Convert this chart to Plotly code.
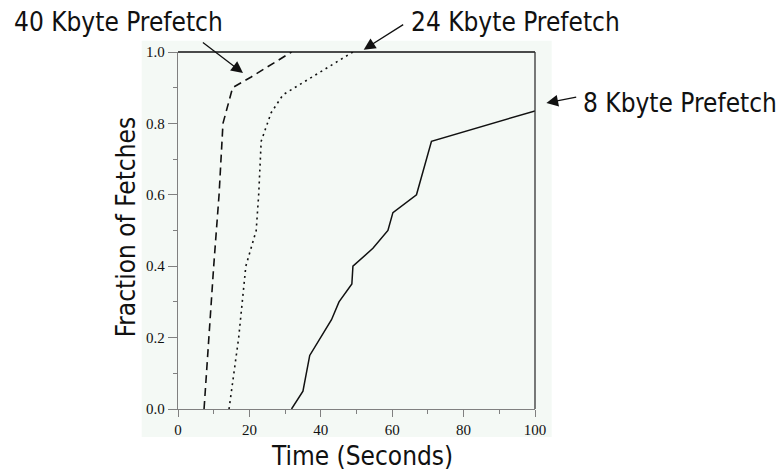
import plotly.graph_objects as go

# Cumulative fraction of fetches completed vs. elapsed time, per prefetch size
time_40k = [7.3, 8.6, 10.0, 11.5, 12.6, 15.3, 20.5, 31.8]
frac_40k = [0.0, 0.2, 0.4, 0.6, 0.8, 0.9, 0.93, 1.0]

time_24k = [14.3, 17.0, 19.0, 21.9, 22.6, 23.3, 26.1, 29.4, 49.0]
frac_24k = [0.0, 0.2, 0.4, 0.5, 0.6, 0.75, 0.83, 0.88, 1.0]

time_8k = [31.8, 35.0, 36.9, 43.0, 45.1, 48.7, 49.0, 54.6, 58.8, 60.2, 66.8, 71.0, 100.0]
frac_8k = [0.0, 0.05, 0.15, 0.25, 0.30, 0.35, 0.40, 0.45, 0.50, 0.55, 0.60, 0.75, 0.835]

series_labels = ["40 Kbyte Prefetch", "24 Kbyte Prefetch", "8 Kbyte Prefetch"]
x_ticks = [0, 20, 40, 60, 80, 100]
y_ticks = [0.0, 0.2, 0.4, 0.6, 0.8, 1.0]

W, H = 783, 471
L, R, T, B = 178.3, 535.3, 52.3, 409.0  # plot-area edges in pixels

def px_x(p):
    return (p - L) / (R - L)

def px_y(p):
    return (B - p) / (B - T)

LABEL_FONT = dict(family="DejaVu Sans Condensed, DejaVu Sans", size=26, color="#111111")
TICK_FONT = dict(family="Liberation Serif, Times New Roman, serif", size=15, color="#111111")
BG = "#f4f9f5"

fig = go.Figure()
fig.add_trace(go.Scatter(x=time_40k, y=frac_40k, mode="lines", name=series_labels[0],
                         line=dict(color="#111111", width=1.6, dash="8px,5px")))
fig.add_trace(go.Scatter(x=time_24k, y=frac_24k, mode="lines", name=series_labels[1],
                         line=dict(color="#111111", width=1.6, dash="2px,4px")))
fig.add_trace(go.Scatter(x=time_8k, y=frac_8k, mode="lines", name=series_labels[2],
                         line=dict(color="#111111", width=1.5)))

shapes = [
    # light panel behind the axes
    dict(type="rect", xref="paper", yref="paper", layer="below",
         x0=px_x(142), x1=px_x(552), y0=px_y(437), y1=px_y(41),
         fillcolor=BG, line=dict(width=0)),
    # top and right frame lines
    dict(type="line", xref="paper", yref="paper", x0=0, x1=1, y0=1, y1=1,
         line=dict(color="#111111", width=1.3)),
    dict(type="line", xref="paper", yref="paper", x0=1, x1=1, y0=0, y1=1,
         line=dict(color="#333333", width=1.3)),
]

annotations = []
# arrows: tail pixel -> tip pixel
arrows = [
    ((201.7, 41.7), (243.3, 73.3)),
    ((405.0, 24.0), (364.0, 50.0)),
    ((578.0, 97.0), (546.7, 103.3)),
]
for (tx, ty), (hx, hy) in arrows:
    annotations.append(dict(x=px_x(hx), y=px_y(hy), xref="paper", yref="paper",
                            ax=tx - hx, ay=ty - hy, text="", showarrow=True,
                            arrowhead=2, arrowsize=1.8, arrowwidth=1.3,
                            arrowcolor="#111111", standoff=0, startstandoff=0))

label_pos = [(12.7, 22.7), (409.3, 22.7), (581.7, 103.0)]
for lab, (lx, ly) in zip(series_labels, label_pos):
    annotations.append(dict(x=px_x(lx), y=px_y(ly), xref="paper", yref="paper",
                            text=lab, showarrow=False, xanchor="left", yanchor="middle",
                            font=LABEL_FONT))

annotations.append(dict(x=px_x(362.5), y=px_y(455.8), xref="paper", yref="paper",
                        text="Time (Seconds)", showarrow=False,
                        xanchor="center", yanchor="middle", font=LABEL_FONT))
annotations.append(dict(x=px_x(125.8), y=px_y(227), xref="paper", yref="paper",
                        text="Fraction of Fetches", showarrow=False, textangle=-90,
                        xanchor="center", yanchor="middle", font=LABEL_FONT))

fig.update_layout(
    width=W, height=H,
    margin=dict(l=L, r=W - R, t=T, b=H - B, pad=0),
    paper_bgcolor="white", plot_bgcolor=BG,
    showlegend=False,
    shapes=shapes, annotations=annotations,
)
fig.update_xaxes(range=[0, 100], tickvals=x_ticks, ticktext=[str(v) for v in x_ticks],
                 showgrid=False, zeroline=False, showline=True, linecolor="#808080",
                 linewidth=1.3, ticks="outside", ticklen=7, tickwidth=1.2,
                 tickcolor="#808080", tickfont=TICK_FONT,
                 minor=dict(dtick=10, tick0=0, ticks="outside", ticklen=4,
                            tickcolor="#808080", tickwidth=1.2, showgrid=False))
fig.update_yaxes(range=[0, 1], tickvals=y_ticks, tickformat=".1f",
                 showgrid=False, zeroline=False, showline=True, linecolor="#808080",
                 linewidth=1.3, ticks="outside", ticklen=9, tickwidth=1.2,
                 tickcolor="#808080", tickfont=TICK_FONT,
                 minor=dict(dtick=0.1, tick0=0, ticks="outside", ticklen=4,
                            tickcolor="#808080", tickwidth=1.2, showgrid=False))

fig.write_html("out.html")
